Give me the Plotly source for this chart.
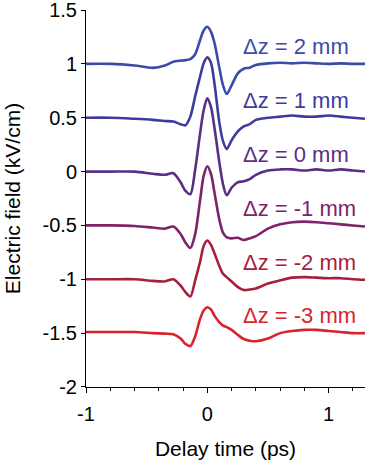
import plotly.graph_objects as go

# Delay-time sampling (ps) shared by every trace
t = [-1.0, -0.8, -0.6, -0.45, -0.35, -0.28, -0.22, -0.18, -0.14, -0.1, -0.06,
     -0.03, 0.0, 0.03, 0.06, 0.1, 0.13, 0.16, 0.2, 0.25, 0.3, 0.35, 0.4, 0.5,
     0.6, 0.7, 0.8, 0.9, 1.0, 1.1, 1.2, 1.3]

# Electric field traces (kV/cm), each offset by 0.5 for display
e_dz2 = [1.0, 1.0, 0.985, 0.963, 0.985, 1.02, 1.03, 1.035, 1.045, 1.09, 1.22,
         1.31, 1.345, 1.30, 1.19, 0.96, 0.80, 0.72, 0.80, 0.91, 0.955, 0.965,
         0.99, 1.005, 1.01, 1.005, 1.01, 1.005, 1.0, 1.005, 1.0, 1.0]
e_dz1 = [0.50, 0.50, 0.49, 0.48, 0.47, 0.465, 0.44, 0.43, 0.51, 0.70, 0.88,
         1.006, 1.06, 1.01, 0.81, 0.45, 0.28, 0.21, 0.29, 0.37, 0.42, 0.44,
         0.48, 0.50, 0.51, 0.52, 0.51, 0.51, 0.52, 0.51, 0.50, 0.49]
e_dz0 = [0.0, 0.0, 0.0, -0.02, -0.03, -0.015, -0.10, -0.18, -0.21, 0.02, 0.35,
         0.57, 0.68, 0.60, 0.40, 0.08, -0.12, -0.22, -0.15, -0.10, -0.09,
         -0.07, -0.03, 0.01, 0.02, 0.02, 0.01, 0.02, 0.01, 0.02, 0.01, 0.0]
e_dzm1 = [-0.5, -0.5, -0.505, -0.52, -0.53, -0.51, -0.58, -0.66, -0.71, -0.58,
          -0.27, -0.04, 0.05, -0.02, -0.20, -0.45, -0.57, -0.61, -0.62, -0.615,
          -0.635, -0.62, -0.60, -0.53, -0.49, -0.47, -0.465, -0.47, -0.48,
          -0.49, -0.50, -0.51]
e_dzm2 = [-1.0, -1.0, -1.0, -1.015, -1.02, -1.0, -1.06, -1.12, -1.16, -1.01,
          -0.84, -0.69, -0.64, -0.68, -0.76, -0.88, -0.95, -0.98, -1.02, -1.07,
          -1.10, -1.095, -1.085, -1.04, -1.01, -0.985, -0.98, -0.985, -0.99,
          -0.99, -1.0, -1.005]
e_dzm3 = [-1.49, -1.49, -1.49, -1.50, -1.505, -1.51, -1.55, -1.60, -1.62,
          -1.53, -1.37, -1.29, -1.26, -1.28, -1.34, -1.40, -1.43, -1.445,
          -1.47, -1.515, -1.555, -1.57, -1.575, -1.55, -1.50, -1.48, -1.47,
          -1.47, -1.48, -1.49, -1.50, -1.50]

labels = ["\u0394z = 2 mm", "\u0394z = 1 mm", "\u0394z = 0 mm",
          "\u0394z = -1 mm", "\u0394z = -2 mm", "\u0394z = -3 mm"]
baselines = [1.0, 0.5, 0.0, -0.5, -1.0, -1.5]
series = [e_dz2, e_dz1, e_dz0, e_dzm1, e_dzm2, e_dzm3]
colors = ["#3a4ba8", "#3d3c9e", "#582f86", "#7e226a", "#a6203e", "#d8232c"]

y_ticks = [1.5, 1.0, 0.5, 0.0, -0.5, -1.0, -1.5, -2.0]
y_ticktext = ["1.5", "1", "0.5", "0", "-0.5", "-1", "-1.5", "-2"]
x_ticks = [-1, 0, 1]
x_ticktext = ["-1", "0", "1"]

FONT = "Liberation Sans, Arial, sans-serif"

fig = go.Figure()
for vals, col in zip(series, colors):
    fig.add_trace(go.Scatter(
        x=t, y=vals, mode="lines",
        line=dict(color=col, width=2.6, shape="spline", smoothing=0.8),
        showlegend=False, hoverinfo="skip"))

for lab, base, col in zip(labels, baselines, colors):
    fig.add_annotation(x=0.28, y=base + 0.16, text=lab, showarrow=False,
                       xanchor="left", yanchor="middle",
                       font=dict(family=FONT, size=22, color=col))

fig.update_layout(
    width=365, height=460,
    margin=dict(l=86, r=0, t=10, b=73),
    paper_bgcolor="white", plot_bgcolor="white",
    font=dict(family=FONT, size=20, color="black"),
)
fig.update_xaxes(
    range=[-1, 1.3], showgrid=False, zeroline=False,
    showline=True, linecolor="black", linewidth=1,
    tickvals=x_ticks, ticktext=x_ticktext,
    ticks="outside", ticklen=5, tickcolor="black", ticklabelstandoff=4,
    minor=dict(dtick=0.2, tick0=0, ticks="outside", ticklen=3,
               tickcolor="black", showgrid=False),
    title=dict(text="Delay time (ps)", font=dict(size=21), standoff=18),
)
fig.update_yaxes(
    range=[-2.0003, 1.5003], showgrid=False, zeroline=False,
    showline=True, linecolor="black", linewidth=1,
    tickvals=y_ticks, ticktext=y_ticktext, ticklabeloverflow="allow",
    ticks="outside", ticklen=4, tickcolor="black",
    title=dict(text="Electric field (kV/cm)", font=dict(size=21), standoff=16),
)

fig.write_html("out.html")
